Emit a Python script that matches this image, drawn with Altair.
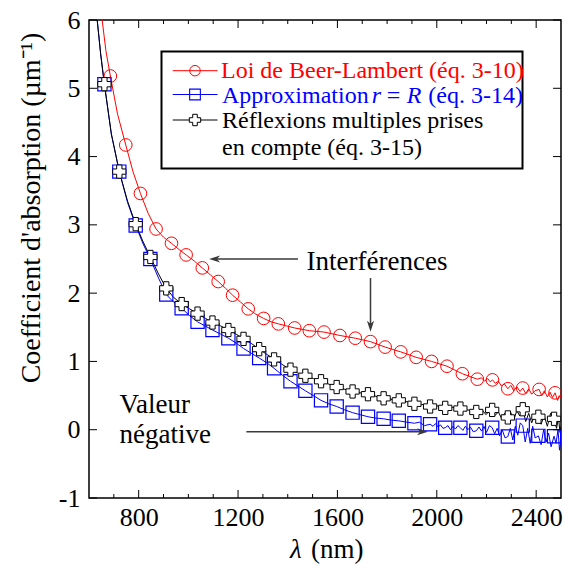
import altair as alt
import pandas as pd

# ---------------- data ----------------
# Beer-Lambert (red) line
red_x = [653, 668, 686, 715, 748, 777, 807, 838, 870, 900, 932, 962, 991, 1024, 1056, 1088,
         1120, 1150, 1178, 1210, 1241, 1272, 1303, 1333, 1362, 1395, 1428, 1487, 1546, 1610,
         1672, 1733, 1792, 1855, 1917, 1979, 2041, 2103, 2163, 2180, 2192, 2205, 2215, 2224,
         2236, 2248, 2260, 2272, 2286, 2298, 2310, 2322, 2335, 2346, 2358, 2370, 2382, 2395,
         2412, 2422, 2433, 2445, 2456, 2466, 2476, 2486, 2493, 2500]
red_y = [6.0, 5.55, 5.18, 4.62, 4.17, 3.78, 3.46, 3.17, 2.94, 2.82, 2.73, 2.64, 2.56, 2.47,
         2.37, 2.27, 2.17, 2.07, 1.97, 1.87, 1.77, 1.69, 1.63, 1.58, 1.55, 1.52, 1.49, 1.45,
         1.43, 1.38, 1.34, 1.29, 1.21, 1.14, 1.06, 1.00, 0.93, 0.82, 0.74, 0.76, 0.71, 0.75,
         0.70, 0.73, 0.68, 0.71, 0.64, 0.67, 0.60, 0.65, 0.57, 0.63, 0.56, 0.61, 0.53, 0.60,
         0.52, 0.57, 0.59, 0.50, 0.57, 0.48, 0.55, 0.47, 0.54, 0.43, 0.50, 0.46]
red_mx = [686, 748, 807, 870, 932, 991, 1056, 1120, 1178, 1241, 1303, 1362, 1428, 1487, 1546,
          1610, 1672, 1733, 1792, 1855, 1917, 1979, 2041, 2103, 2163, 2224, 2286, 2346, 2412, 2476]
red_my = [5.18, 4.17, 3.46, 2.94, 2.73, 2.56, 2.37, 2.17, 1.97, 1.77, 1.63, 1.55, 1.49, 1.45,
          1.43, 1.38, 1.34, 1.29, 1.21, 1.14, 1.06, 1.00, 0.93, 0.82, 0.74, 0.73, 0.60, 0.61,
          0.59, 0.54]

# Approximation r = R (blue) line
blue_x = [633, 647, 662, 690, 722, 755, 788, 818, 847, 880, 911, 940, 973, 1005, 1037, 1067,
          1097, 1130, 1161, 1192, 1222, 1253, 1285, 1315, 1345, 1378, 1411, 1441, 1471, 1503,
          1534, 1565, 1597, 1630, 1661, 1692, 1723, 1755, 1786, 1817, 1847, 1880, 1910, 1930,
          1950, 1973, 1985, 1995, 2005, 2015, 2025, 2034, 2045, 2055, 2065, 2075, 2085, 2095,
          2105, 2115, 2125, 2135, 2147, 2159, 2170, 2180, 2190, 2200, 2212, 2223, 2233, 2243,
          2253, 2263, 2275, 2286, 2296, 2306, 2316, 2326, 2336, 2346, 2356, 2366, 2376, 2386,
          2396, 2409, 2420, 2430, 2440, 2450, 2460, 2472, 2480, 2488, 2494, 2500]
blue_y = [6.0, 5.5, 5.06, 4.33, 3.78, 3.33, 2.99, 2.72, 2.50, 2.22, 1.98, 1.87, 1.78, 1.67,
          1.58, 1.52, 1.46, 1.40, 1.34, 1.27, 1.19, 1.12, 1.05, 0.98, 0.90, 0.80, 0.71, 0.64,
          0.57, 0.50, 0.43, 0.38, 0.34, 0.29, 0.25, 0.22, 0.19, 0.17, 0.16, 0.14, 0.13, 0.11,
          0.095, 0.11, 0.06, 0.08, 0.05, 0.09, 0.04, 0.07, 0.02, 0.03, 0.06, 0.0, 0.05, 0.01,
          0.06, 0.03, -0.01, 0.05, 0.0, 0.04, -0.03, -0.015, 0.04, -0.02, 0.05, -0.04, 0.06,
          0.03, -0.06, 0.02, -0.09, 0.0, -0.12, -0.10, 0.02, -0.15, 0.05, -0.08, 0.10, 0.06,
          -0.18, 0.02, -0.20, 0.05, -0.12, -0.09, -0.22, 0.0, -0.18, -0.05, -0.25, -0.095,
          -0.20, 0.0, -0.30, -0.15]
blue_mx = [662, 722, 788, 847, 911, 973, 1037, 1097, 1161, 1222, 1285, 1345, 1411, 1471, 1534,
           1597, 1661, 1723, 1786, 1847, 1910, 1973, 2034, 2095, 2159, 2223, 2286, 2346, 2409, 2472]
blue_my = [5.06, 3.78, 2.99, 2.50, 1.98, 1.78, 1.58, 1.46, 1.34, 1.19, 1.05, 0.90, 0.71, 0.57,
           0.43, 0.34, 0.25, 0.19, 0.16, 0.13, 0.095, 0.08, 0.03, 0.03, -0.015, 0.03, -0.10,
           0.06, -0.09, -0.095]

# Multiple reflections (black) line
black_x = [633, 647, 662, 690, 722, 755, 788, 818, 847, 880, 911, 940, 973, 1005, 1037, 1068,
           1100, 1130, 1161, 1192, 1223, 1255, 1285, 1317, 1348, 1380, 1411, 1441, 1471, 1503,
           1534, 1597, 1661, 1723, 1786, 1847, 1880, 1910, 1940, 1973, 2000, 2034, 2060, 2095,
           2125, 2159, 2172, 2185, 2198, 2210, 2223, 2235, 2248, 2260, 2273, 2286, 2298, 2310,
           2322, 2334, 2346, 2358, 2370, 2382, 2395, 2409, 2420, 2432, 2445, 2458, 2472, 2482,
           2490, 2496, 2500]
black_y = [6.0, 5.5, 5.06, 4.33, 3.78, 3.35, 3.01, 2.75, 2.53, 2.28, 2.07, 1.94, 1.84, 1.77,
           1.70, 1.63, 1.57, 1.52, 1.46, 1.40, 1.33, 1.26, 1.18, 1.10, 1.03, 0.95, 0.88, 0.83,
           0.79, 0.75, 0.71, 0.625, 0.56, 0.52, 0.46, 0.43, 0.41, 0.38, 0.37, 0.34, 0.35, 0.32,
           0.33, 0.31, 0.29, 0.26, 0.24, 0.28, 0.22, 0.27, 0.29, 0.21, 0.26, 0.17, 0.24, 0.18,
           0.25, 0.14, 0.28, 0.20, 0.30, 0.12, 0.24, 0.10, 0.22, 0.19, 0.08, 0.21, 0.05, 0.24,
           0.16, 0.02, 0.18, -0.04, 0.05]
black_mx = blue_mx
black_my = [5.06, 3.78, 3.01, 2.53, 2.07, 1.84, 1.70, 1.57, 1.46, 1.33, 1.18, 1.03, 0.88, 0.79,
            0.71, 0.625, 0.56, 0.52, 0.46, 0.43, 0.38, 0.34, 0.32, 0.31, 0.26, 0.29, 0.18, 0.30,
            0.19, 0.16]

x_major = [800, 1200, 1600, 2000, 2400]
x_minor = [700, 900, 1000, 1100, 1300, 1400, 1500, 1700, 1800, 1900, 2100, 2200, 2300]
y_ticks = [-1, 0, 1, 2, 3, 4, 5, 6]

legend_labels = ["Loi de Beer-Lambert (éq. 3-10)", "Approximation", "r", "=", "R",
                 "(éq. 3-14)", "Réflexions multiples prises", "en compte (éq. 3-15)"]

# ---------------- styling ----------------
FONT = "Liberation Serif"
RED, BLUE, BLACK = "#ff0000", "#0000ff", "#000000"
W, H = 472, 478
xs = alt.Scale(domain=[600, 2500], nice=False, zero=False)
ys = alt.Scale(domain=[-1, 6], nice=False, zero=False)
X_AX = alt.Axis(values=x_major, ticks=False, tickSize=0, domain=False, grid=False,
                labelFont=FONT, labelFontSize=26, labelColor="black", labelPadding=6, title=None,
                labelExpr="'' + datum.value")
Y_AX = alt.Axis(values=y_ticks, ticks=False, tickSize=0, domain=False, grid=False,
                labelFont=FONT, labelFontSize=26, labelColor="black", labelPadding=9, title=None,
                labelExpr="'' + datum.value")
one = pd.DataFrame({"k": [0]})


def X(field):
    return alt.X(field, scale=xs, axis=X_AX)


def Y(field):
    return alt.Y(field, scale=ys, axis=Y_AX)


def line(xv, yv, color):
    df = pd.DataFrame({"x": xv, "y": yv, "i": range(len(xv))})
    return alt.Chart(df).mark_line(color=color, strokeWidth=1, clip=True).encode(
        x=X("x:Q"), y=Y("y:Q"), order="i:Q")


def markers(xv, yv, **kw):
    df = pd.DataFrame({"x": xv, "y": yv})
    return alt.Chart(df).mark_point(clip=True, opacity=1, **kw).encode(x=X("x:Q"), y=Y("y:Q"))


def txt(s, x, y, size=26, color="black", align="left", style="normal", angle=0):
    kw = dict(text=s, font=FONT, fontSize=size, color=color, align=align,
              baseline="alphabetic", fontStyle=style)
    if angle:
        kw["angle"] = angle
        kw["baseline"] = "middle"
    return alt.Chart(one).mark_text(**kw).encode(x=alt.value(x), y=alt.value(y))


def seg(x1, y1, x2, y2, color="black", width=1.0):
    return alt.Chart(one).mark_rule(color=color, strokeWidth=width).encode(
        x=alt.value(x1), x2=alt.value(x2), y=alt.value(y1), y2=alt.value(y2))


def sym(x, y, shape, size, **kw):
    return alt.Chart(one).mark_point(shape=shape, size=size, opacity=1, **kw).encode(
        x=alt.value(x), y=alt.value(y))


def xticks(vals, length):
    df = pd.DataFrame({"v": vals})
    b = alt.Chart(df).mark_rule(color="black", strokeWidth=1).encode(
        x=X("v:Q"), y=alt.value(H), y2=alt.value(H - length))
    t = alt.Chart(df).mark_rule(color="black", strokeWidth=1).encode(
        x=X("v:Q"), y=alt.value(0), y2=alt.value(length))
    return [b, t]


def yticks(vals, length):
    df = pd.DataFrame({"v": vals})
    l = alt.Chart(df).mark_rule(color="black", strokeWidth=1).encode(
        y=Y("v:Q"), x=alt.value(0), x2=alt.value(length))
    r = alt.Chart(df).mark_rule(color="black", strokeWidth=1).encode(
        y=Y("v:Q"), x=alt.value(W), x2=alt.value(W - length))
    return [l, r]


ARROW_L = "M-1,0L1,-0.65L0.45,0L1,0.65Z"
ARROW_R = "M1,0L-1,-0.65L-0.45,0L-1,0.65Z"
ARROW_D = "M0,1L-0.65,-1L0,-0.45L0.65,-1Z"
AC = "#3a3a3a"
LS = 24
LX = 2  # legend x shift

layers = [
    line(red_x, red_y, RED),
    line(blue_x, blue_y, BLUE),
    line(black_x, black_y, BLACK),
    markers(red_mx, red_my, shape="circle", size=160, filled=False, color=RED, strokeWidth=1),
    markers(blue_mx, blue_my, shape="square", size=175, filled=False, color=BLUE, strokeWidth=1.2),
    markers(black_mx, black_my, shape="cross", size=175, filled=True, fill="white",
            stroke="black", strokeWidth=1),
    *xticks(x_major, 8), *xticks(x_minor, 4), *yticks(y_ticks, 8),
    # legend box
    alt.Chart(one).mark_rect(fill="white", stroke="black", strokeWidth=2).encode(
        x=alt.value(70.5 + LX), x2=alt.value(431.5 + LX), y=alt.value(31.5), y2=alt.value(148.5)),
    seg(81.7 + LX, 50.7, 126.5 + LX, 50.7, RED),
    sym(104 + LX, 50.7, "circle", 110, filled=False, color=RED, strokeWidth=1),
    seg(81.7 + LX, 74.5, 126.5 + LX, 74.5, BLUE),
    sym(104 + LX, 74.5, "square", 115, filled=False, color=BLUE, strokeWidth=1.1),
    seg(81.7 + LX, 100, 126.5 + LX, 100, BLACK),
    sym(104 + LX, 100, "cross", 130, filled=True, fill="white", stroke="black", strokeWidth=1),
    txt(legend_labels[0], 130 + LX, 58.3, LS, RED),
    txt(legend_labels[1], 131 + LX, 83.3, LS, BLUE),
    txt(legend_labels[2], 280.7 + LX, 83.3, LS, BLUE, style="italic"),
    txt(legend_labels[3], 295.7 + LX, 83.3, LS, BLUE),
    txt(legend_labels[4], 315.7 + LX, 83.3, LS, BLUE, style="italic"),
    txt(legend_labels[5], 337.3 + LX, 83.3, LS, BLUE),
    txt(legend_labels[6], 131 + LX, 108.3, LS, BLACK),
    txt(legend_labels[7], 131 + LX, 135, LS, BLACK),
    # annotations
    txt("Interférences", 217.5, 250, 27),
    seg(209, 239, 125, 239, AC, 1.5), sym(125.6, 239, ARROW_L, 121, filled=True, fill=AC, strokeWidth=0),
    seg(281.5, 258, 281.5, 306, AC, 1.5), sym(281.5, 306.2, ARROW_D, 121, filled=True, fill=AC, strokeWidth=0),
    txt("Valeur", 30.5, 393.3, 27),
    txt("négative", 30.5, 423.3, 27),
    seg(157.4, 411.7, 334, 411.7, AC, 1.5), sym(333.5, 411.7, ARROW_R, 121, filled=True, fill=AC, strokeWidth=0),
    # axis titles
    txt("λ", 201, 538, 27, style="italic"),
    txt("(nm)", 222, 538, 27),
    txt("Coefficient d'absorption (µm⁻¹)", -57.3, 188, 28, align="center", angle=270),
]

chart = alt.layer(*layers).properties(
    width=W, height=H,
    padding={"left": 81, "top": 12, "right": 2, "bottom": 66},
    autosize=alt.AutoSizeParams(type="none"),
).configure_view(stroke="black", strokeWidth=1.5).configure_axis(grid=False)

chart.save("out.html", embed_options={"renderer": "svg", "actions": False})
